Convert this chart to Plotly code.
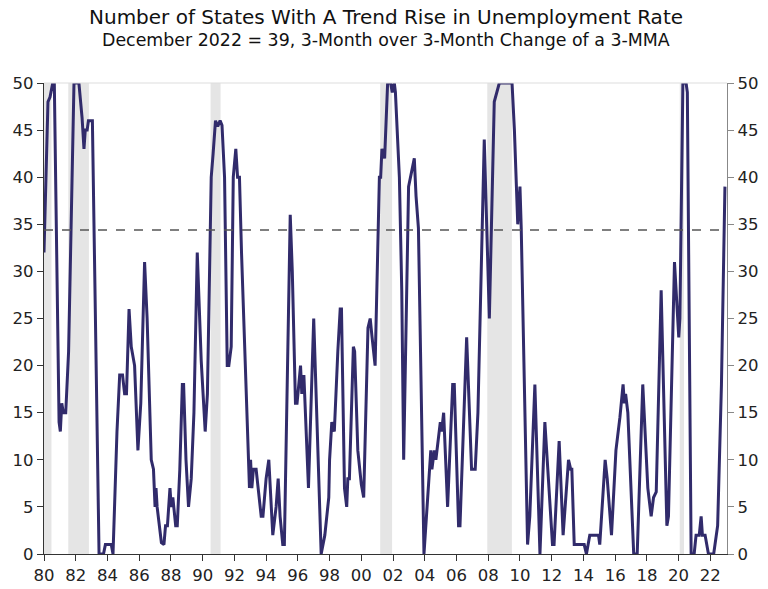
import plotly.graph_objects as go

# decimal-year vertices of the monthly series
years = [
    1980.00, 1980.25, 1980.38, 1980.55, 1980.65, 1980.95, 1981.03, 1981.12, 1981.22, 1981.37,
    1981.55, 1981.89, 1982.20, 1982.40, 1982.52, 1982.60, 1982.72, 1982.80, 1983.05, 1983.47,
    1983.75, 1983.87, 1984.24, 1984.35, 1984.60, 1984.77, 1984.95, 1985.08, 1985.20, 1985.36,
    1985.50, 1985.71, 1985.92, 1986.10, 1986.34, 1986.50, 1986.76, 1986.90, 1987.00, 1987.06,
    1987.13, 1987.40, 1987.56, 1987.66, 1987.78, 1987.94, 1988.02, 1988.12, 1988.30, 1988.40,
    1988.56, 1988.72, 1988.80, 1988.95, 1989.11, 1989.28, 1989.45, 1989.66, 1989.91, 1990.16,
    1990.30, 1990.54, 1990.66, 1990.81, 1990.95, 1991.10, 1991.22, 1991.38, 1991.55, 1991.65,
    1991.80, 1991.93, 1992.09, 1992.20, 1992.32, 1992.45, 1992.95, 1993.02, 1993.10, 1993.20,
    1993.37, 1993.50, 1993.69, 1993.80, 1994.00, 1994.17, 1994.42, 1994.63, 1994.76, 1994.88,
    1995.05, 1995.15, 1995.30, 1995.52, 1995.65, 1995.85, 1995.95, 1996.17, 1996.25, 1996.38,
    1996.67, 1997.00, 1997.47, 1997.70, 1997.95, 1998.00, 1998.14, 1998.30, 1998.52, 1998.67,
    1998.75, 1998.94, 1999.08, 1999.15, 1999.25, 1999.50, 1999.58, 1999.78, 2000.00, 2000.15,
    2000.42, 2000.56, 2000.68, 2000.87, 2001.14, 2001.22, 2001.30, 2001.47, 2001.66, 2001.85,
    2001.95, 2002.08, 2002.15, 2002.40, 2002.55, 2002.67, 2002.98, 2003.20, 2003.34, 2003.45,
    2003.60, 2003.95, 2004.29, 2004.38, 2004.45, 2004.60, 2004.70, 2004.85, 2004.98, 2005.06,
    2005.19, 2005.44, 2005.76, 2005.86, 2006.13, 2006.22, 2006.64, 2006.95, 2007.18, 2007.35,
    2007.75, 2008.07, 2008.38, 2008.70, 2009.50, 2009.65, 2009.86, 2010.00, 2010.08, 2010.48,
    2010.62, 2010.94, 2011.26, 2011.57, 2012.05, 2012.15, 2012.47, 2012.72, 2013.06, 2013.20,
    2013.27, 2013.42, 2014.05, 2014.19, 2014.40, 2014.95, 2015.03, 2015.37, 2015.50, 2015.77,
    2016.05, 2016.30, 2016.50, 2016.58, 2016.66, 2016.80, 2017.17, 2017.39, 2017.74, 2018.06,
    2018.27, 2018.42, 2018.59, 2018.90, 2019.26, 2019.36, 2019.74, 2020.01, 2020.08, 2020.27,
    2020.47, 2020.55, 2020.79, 2020.98, 2021.10, 2021.30, 2021.42, 2021.50, 2021.67, 2021.88,
    2022.21, 2022.46, 2022.70, 2022.92,
]
states = [
    32, 48, 48.5, 50, 50, 14, 13, 16, 15, 15,
    21.5, 50, 50, 46.3, 43, 45, 45, 46, 46, 0,
    0, 1, 1, 0, 13, 19, 19, 17, 17, 26,
    22, 20, 11, 16, 31, 25, 10, 9, 5, 7,
    5, 1.2, 1, 3, 3, 7, 5, 6, 3, 3,
    9, 18, 18, 10, 5, 8, 15, 32, 20.5, 13,
    17, 40, 42.5, 46, 45.4, 46, 45.5, 40, 20, 20,
    22, 40, 43, 40, 40, 32, 7, 10, 7, 9,
    9, 7, 4, 4, 8, 10, 2, 5, 8, 4,
    1, 1, 15.5, 36, 30, 16, 16, 20, 17, 19,
    7, 25, 0, 2, 6, 10, 14, 13, 21.5, 26,
    26, 7, 5, 8, 8, 22, 21.5, 11, 7.4, 6,
    24, 25, 23, 20, 40, 40, 43, 42, 50, 50,
    49, 50, 49, 40, 28, 10, 39, 41, 42, 38,
    34.6, 0, 9, 11, 9, 11, 10, 12, 14, 13,
    15, 5, 18, 18, 3, 3, 23, 9, 9, 15,
    44, 25, 48, 50, 50, 45, 35, 39, 34.6, 1,
    4, 18, 0, 14, 1, 1, 12, 2, 10, 9,
    9, 1, 1, 0, 2, 2, 1, 10, 8, 2,
    11, 14.5, 18, 16, 17, 15, 0, 0, 18, 7,
    4, 6, 6.6, 28, 3, 4, 31, 23, 25, 50,
    50, 49, 0, 0, 2, 2, 4, 2, 2, 0,
    0, 3, 18, 39,
]

recession_start = [1980.00, 1981.53, 1990.50, 2001.19, 2007.94, 2020.07]
recession_end = [1980.47, 1982.83, 1991.13, 2001.94, 2009.49, 2020.34]

threshold = 34.4

x_tickvals = list(range(1980, 2023, 2))
x_ticktext = [f"{v % 100:02d}" for v in x_tickvals]
y_tickvals = list(range(0, 51, 5))

LINE = "#312B6B"
FONT = "DejaVu Sans"
TICKSIZE = 16.5

fig = go.Figure()

fig.add_trace(go.Scatter(
    x=years, y=states, mode="lines",
    line=dict(color=LINE, width=3),
    showlegend=False, hoverinfo="x+y",
))
# invisible trace to activate the right axis
fig.add_trace(go.Scatter(
    x=[years[0], years[-1]], y=[0, 50], yaxis="y2", mode="lines",
    line=dict(width=0), opacity=0, showlegend=False, hoverinfo="skip",
))

shapes = []
for s, e in zip(recession_start, recession_end):
    shapes.append(dict(type="rect", xref="x", yref="paper", x0=s, x1=e, y0=0, y1=1,
                       fillcolor="#E5E5E5", line=dict(width=0), layer="below"))
shapes.append(dict(type="line", xref="paper", yref="y", x0=0, x1=1, y0=threshold, y1=threshold,
                   line=dict(color="#555555", width=1.6, dash="dash")))
shapes.append(dict(type="line", xref="paper", yref="paper", x0=0, x1=1, y0=1, y1=1,
                   line=dict(color="#DDDDDD", width=1)))

fig.update_layout(
    width=760, height=581,
    margin=dict(l=36, r=41, t=75, b=35, autoexpand=False),
    paper_bgcolor="white", plot_bgcolor="white",
    font=dict(family=FONT, color="#222222", size=14),
    shapes=shapes,
    annotations=[
        dict(text="Number of States With A Trend Rise in Unemployment Rate",
             xref="paper", yref="paper", x=0.5, y=1, yshift=66, yanchor="middle",
             showarrow=False, font=dict(size=20, family=FONT, color="#111111")),
        dict(text="December 2022 = 39, 3-Month over 3-Month Change of a 3-MMA",
             xref="paper", yref="paper", x=0.5, y=1, yshift=43, yanchor="middle",
             showarrow=False, font=dict(size=17.4, family=FONT, color="#111111")),
    ],
    xaxis=dict(
        range=[1980, 2023.05], tickvals=x_tickvals, ticktext=x_ticktext, automargin=False,
        showgrid=False, zeroline=False, showline=True, linecolor="#333333", linewidth=1.2,
        ticks="outside", ticklen=6, tickcolor="#333333",
        tickfont=dict(size=TICKSIZE, family=FONT, color="#222222"),
    ),
    yaxis=dict(
        range=[0, 50], tickvals=y_tickvals, showgrid=False, zeroline=False, automargin=False,
        showline=True, linecolor="#333333", linewidth=1.2,
        ticks="outside", ticklen=6, tickcolor="#333333",
        tickfont=dict(size=TICKSIZE, family=FONT, color="#222222"),
    ),
    yaxis2=dict(
        range=[0, 50], tickvals=y_tickvals, overlaying="y", side="right", automargin=False,
        showgrid=False, zeroline=False, showline=True, linecolor="#888888", linewidth=1.2,
        ticks="outside", ticklen=6, tickcolor="#888888",
        tickfont=dict(size=TICKSIZE, family=FONT, color="#222222"),
    ),
)

fig.write_html("out.html")
